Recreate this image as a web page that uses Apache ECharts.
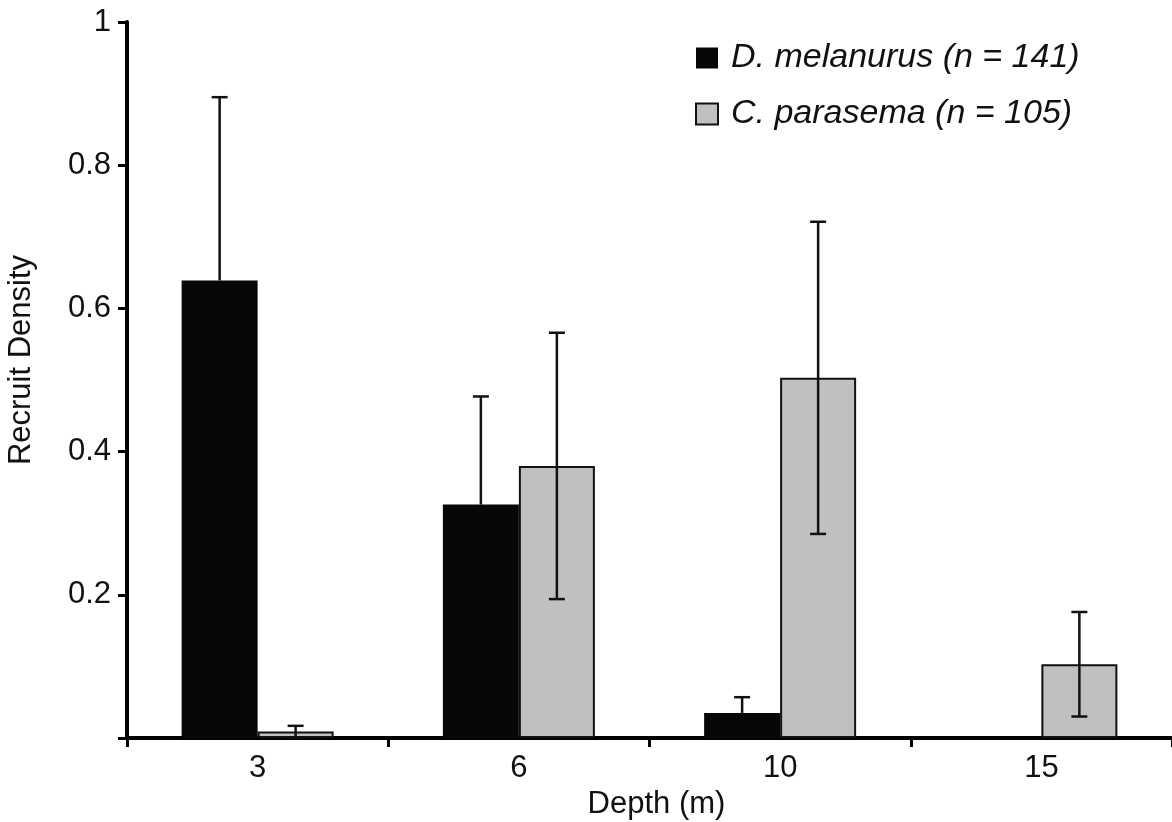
<!DOCTYPE html>
<html>
<head>
<meta charset="utf-8">
<script src="https://cdn.jsdelivr.net/npm/echarts@6/dist/echarts.min.js"></script>
<style>
html,body{margin:0;padding:0;background:#fff;}
#chart{width:1172px;height:822px;}
</style>
</head>
<body>
<div id="chart"></div>
<script>
const depths = ['3', '6', '10', '15'];
const seriesNames = ['D. melanurus (n = 141)', 'C. parasema (n = 105)'];
const melanurusMean = [0.639, 0.326, 0.035, 0];
const melanurusErr = [0.256, 0.151, 0.022, 0];
const parasemaMean = [0.009, 0.380, 0.503, 0.103];
const parasemaErr = [0.008, 0.186, 0.218, 0.073];
const yTicks = [0, 0.2, 0.4, 0.6, 0.8, 1];

const FONT = 'Liberation Sans, Arial, sans-serif';
const BAR_W = 76;
const AX_FS = 31;

function errorSeries(mean, err, offset, upperOnly) {
  const data = mean.map((m, i) => [i, m, err[i]]);
  return {
    type: 'custom',
    z: 5,
    silent: true,
    data: data,
    renderItem: function (params, api) {
      const i = api.value(0), m = api.value(1), e = api.value(2);
      if (!(m > 0) || !(e > 0)) return null;
      const c = api.coord([i, m]);
      const x = c[0] + offset;
      const top = api.coord([i, m + e])[1];
      const bot = upperOnly ? c[1] : api.coord([i, Math.max(0, m - e)])[1];
      const half = 8;
      const st = { stroke: '#111', lineWidth: 2.5 };
      const children = [
        { type: 'line', shape: { x1: x, y1: top, x2: x, y2: bot }, style: st },
        { type: 'line', shape: { x1: x - half, y1: top, x2: x + half, y2: top }, style: st }
      ];
      if (!upperOnly) {
        children.push({ type: 'line', shape: { x1: x - half, y1: bot, x2: x + half, y2: bot }, style: st });
      }
      return { type: 'group', children: children };
    }
  };
}

const chart = echarts.init(document.getElementById('chart'));
chart.setOption({
  animation: false,
  backgroundColor: '#ffffff',
  textStyle: { fontFamily: FONT, color: '#111' },
  grid: { left: 127, right: 0, top: 22, bottom: 84, containLabel: false, outerBoundsMode: 'none' },
  legend: {
    orient: 'vertical',
    left: 690,
    top: 36,
    itemWidth: 22,
    itemHeight: 21,
    itemGap: 22,
    icon: 'rect',
    data: seriesNames,
    textStyle: {
      fontFamily: FONT,
      fontSize: 34,
      fontStyle: 'italic',
      color: '#111',
      lineHeight: 34,
      padding: [0, 0, 0, 8]
    }
  },
  xAxis: {
    type: 'category',
    data: depths,
    name: 'Depth (m)',
    nameLocation: 'middle',
    nameGap: 49,
    nameTextStyle: { fontFamily: FONT, fontSize: AX_FS, color: '#111', padding: [0, 0, 0, 14] },
    axisLine: { lineStyle: { color: '#000', width: 4 } },
    axisTick: { show: true, length: 9, lineStyle: { color: '#000', width: 3 } },
    axisLabel: { fontFamily: FONT, fontSize: AX_FS, color: '#111', margin: 15 },
    splitLine: { show: false }
  },
  yAxis: {
    type: 'value',
    min: 0,
    max: 1,
    interval: 0.2,
    name: 'Recruit Density',
    nameLocation: 'middle',
    nameRotate: 90,
    nameGap: 90,
    nameTextStyle: { fontFamily: FONT, fontSize: AX_FS, color: '#111', padding: [0, 0, 0, 40] },
    axisLine: { show: true, lineStyle: { color: '#000', width: 4 } },
    axisTick: { show: true, length: 9, lineStyle: { color: '#000', width: 3 } },
    axisLabel: {
      fontFamily: FONT, fontSize: AX_FS, color: '#111', margin: 16,
      formatter: function (v) { return v === 0 ? '' : String(+v.toFixed(1)); }
    },
    splitLine: { show: false }
  },
  series: [
    {
      name: seriesNames[0],
      type: 'bar',
      data: melanurusMean,
      barWidth: BAR_W,
      barGap: '0%',
      itemStyle: { color: '#060709', borderColor: '#060709', borderWidth: 0 }
    },
    {
      name: seriesNames[1],
      type: 'bar',
      data: parasemaMean,
      barWidth: BAR_W,
      barGap: '0%',
      itemStyle: { color: '#c0c0c0', borderColor: '#111', borderWidth: 2 }
    },
    errorSeries(melanurusMean, melanurusErr, -BAR_W / 2, true),
    errorSeries(parasemaMean, parasemaErr, BAR_W / 2, false)
  ]
});
</script>
</body>
</html>
